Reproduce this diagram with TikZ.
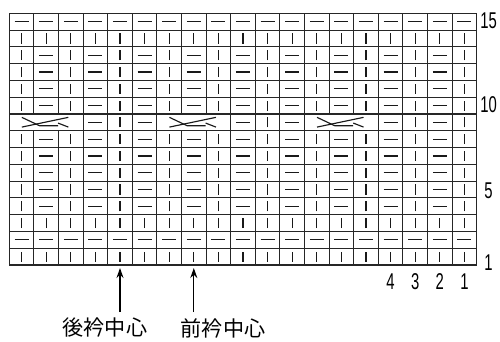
\documentclass[tikz,border=0pt]{standalone}
\usepackage{fontspec}
\usetikzlibrary{arrows.meta}
\newfontfamily\numfont[FakeStretch=0.65]{Liberation Sans}
\newfontfamily\cjk{Noto Sans CJK JP}
\tikzset{
  gridline/.style={line width=0.65pt, black!85},
  stitch/.style={line width=0.65pt, black!90},
  rownum/.style={font=\numfont\fontsize{13}{15}\selectfont, inner sep=0pt},
  pointer/.style={line width=0.65pt, -{Stealth[length=2mm,width=1.4mm]}},
  caption/.style={font=\cjk\fontsize{12}{14}\selectfont, inner sep=0pt}
}
% one stitch symbol per cell (column, row)
\newcommand{\knitst}[2]{\draw[stitch] (#1-0.5,#2-0.8) -- (#1-0.5,#2-0.2);}
\newcommand{\purlst}[2]{\draw[stitch] (#1-0.785,#2-0.5) -- (#1-0.215,#2-0.5);}
% cable crossing over three columns, starting at column #1, row 9
\newcommand{\cablest}[1]{%
  \draw[stitch] (#1-0.49,8.8) -- (#1+0.23,8.3) -- (#1+0.98,8.3);
  \draw[stitch] (#1-0.49,8.22) -- (#1+1.4,8.8);
  \draw[stitch] (#1+0.98,8.46) -- (#1+1.4,8.22);}
\begin{document}
\begin{tikzpicture}[x=0.492cm, y=0.3356cm]
\useasboundingbox (-0.378,-4.529) rectangle (19.947,15.793);
% grid
\foreach \i in {0,...,19} \draw[gridline] (\i,0) -- (\i,8) (\i,9) -- (\i,15);
\foreach \i in {0,3,4,5,6,9,10,11,12,15,16,17,18,19} \draw[gridline] (\i,8) -- (\i,9);
\foreach \j in {0,...,15} \draw[gridline] (0,\j) -- (19,\j);
% stitches
\foreach \r in {1,3,14} {\foreach \c in {1,...,19} {\knitst{\c}{\r}}}
\foreach \r in {2,15} {\foreach \c in {1,...,19} {\purlst{\c}{\r}}}
\foreach \r in {4,5,6,7,8,10,11,12,13} {
  \foreach \c in {1,3,...,19} {\knitst{\c}{\r}}
  \foreach \c in {2,4,...,18} {\purlst{\c}{\r}}
}
\foreach \c in {5,11,17,19} {\knitst{\c}{9}}
\foreach \c in {4,6,10,12,16,18} {\purlst{\c}{9}}
\foreach \a in {1,7,13} {\cablest{\a}}
% row and column numbers
\node[rownum] (r15) at (19.48,14.55) {15};
\node[rownum] (r10) at (19.48,9.53) {10};
\node[rownum] (r5) at (19.48,4.4) {5};
\node[rownum] (r1) at (19.48,0.15) {1};
\node[rownum] (c4) at (15.5,-0.97) {4};
\node[rownum] (c3) at (16.5,-0.97) {3};
\node[rownum] (c2) at (17.5,-0.97) {2};
\node[rownum] (c1) at (18.5,-0.97) {1};
% centre marks
\coordinate (backtip) at (4.5,-0.18);
\coordinate (backfoot) at (4.5,-2.8);
\coordinate (fronttip) at (7.5,-0.18);
\coordinate (frontfoot) at (7.5,-2.8);
\draw[pointer] (backfoot) -- (backtip);
\draw[pointer] (frontfoot) -- (fronttip);
\node[caption] (back) at (3.89,-3.75) {後衿中心};
\node[caption] (front) at (8.69,-3.75) {前衿中心};
\end{tikzpicture}
\end{document}
